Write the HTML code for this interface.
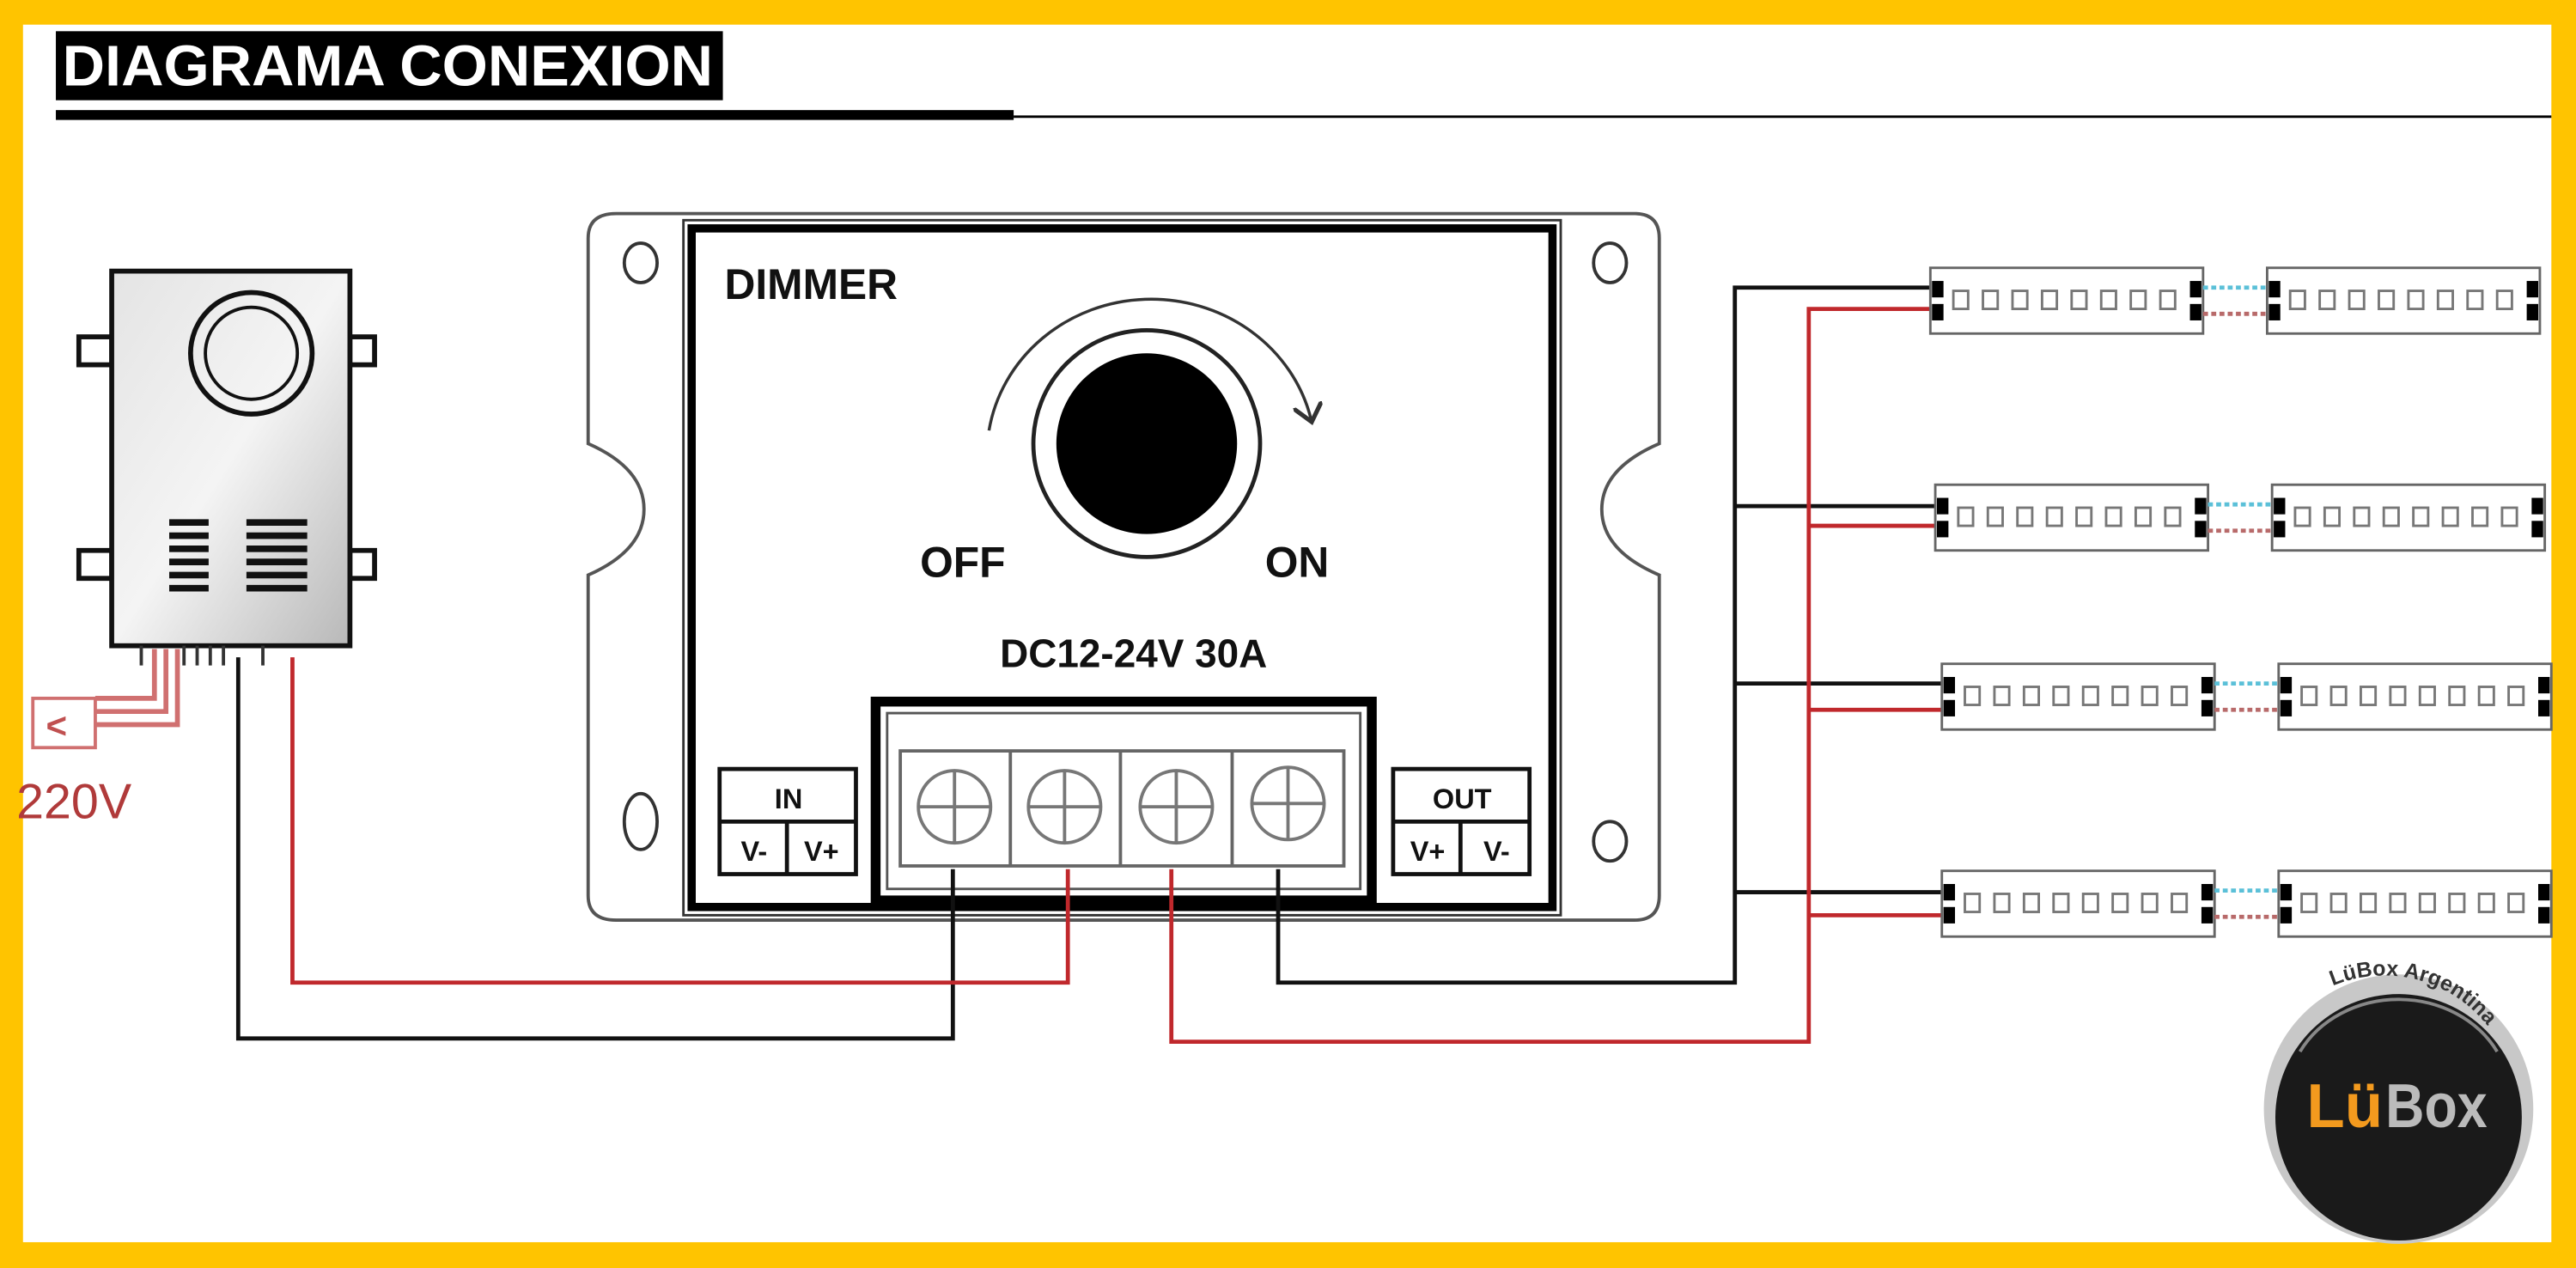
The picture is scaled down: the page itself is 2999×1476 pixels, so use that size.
<!DOCTYPE html>
<html><head><meta charset="utf-8"><style>
html,body{margin:0;padding:0;background:#FFC400;}
svg{display:block}
</style></head><body>
<svg width="2999" height="1476" viewBox="0 0 1568 771.7" preserveAspectRatio="none" xmlns="http://www.w3.org/2000/svg" font-family="Liberation Sans, sans-serif">
<defs>
<linearGradient id="g" x1="0" y1="0" x2="1" y2="1"><stop offset="0" stop-color="#e4e4e4"/><stop offset="0.5" stop-color="#f4f4f4"/><stop offset="1" stop-color="#b8b8b8"/></linearGradient>
<marker id="ah" markerWidth="10" markerHeight="10" refX="5" refY="5" orient="auto"><path d="M0,0 L6,5 L0,10" fill="none" stroke="#333" stroke-width="1.5"/></marker>
<g id="strip">
<rect x="0" y="0" width="166" height="40" fill="#fff" stroke="#666" stroke-width="1.5"/>
<rect x="1" y="8" width="7" height="10" fill="#000"/><rect x="1" y="22" width="7" height="10" fill="#000"/>
<rect x="158" y="8" width="7" height="10" fill="#000"/><rect x="158" y="22" width="7" height="10" fill="#000"/>
<g fill="none" stroke="#777" stroke-width="1.5">
<rect x="14" y="14" width="9" height="11"/><rect x="32" y="14" width="9" height="11"/><rect x="50" y="14" width="9" height="11"/><rect x="68" y="14" width="9" height="11"/><rect x="86" y="14" width="9" height="11"/><rect x="104" y="14" width="9" height="11"/><rect x="122" y="14" width="9" height="11"/><rect x="140" y="14" width="9" height="11"/>
</g>
</g>
<g id="pair">
<use href="#strip" x="0" y="0"/>
<line x1="166" y1="12" x2="205" y2="12" stroke="#5bc0d8" stroke-width="2.5" stroke-dasharray="3,2"/>
<line x1="166" y1="28" x2="205" y2="28" stroke="#b86a6a" stroke-width="2.5" stroke-dasharray="3,2"/>
<use href="#strip" x="205" y="0"/>
</g>
</defs>
<rect x="14" y="15" width="1539" height="741" fill="#fff"/>
<!-- title -->
<rect x="34" y="19" width="406" height="42" fill="#000"/>
<text x="38" y="52" font-size="35" font-weight="bold" fill="#fff" textLength="396" lengthAdjust="spacingAndGlyphs">DIAGRAMA CONEXION</text>
<rect x="34" y="67" width="583" height="6" fill="#000"/>
<line x1="617" y1="71" x2="1553" y2="71" stroke="#000" stroke-width="1.5"/>

<!-- power supply -->
<g stroke="#111" stroke-width="3">
<rect x="48" y="205" width="20" height="17" fill="#fff"/><rect x="48" y="335" width="20" height="17" fill="#fff"/>
<rect x="213" y="205" width="15" height="17" fill="#fff"/><rect x="213" y="335" width="15" height="17" fill="#fff"/>
<rect x="68" y="165" width="145" height="228" fill="url(#g)"/>
<circle cx="153" cy="215" r="37" fill="none"/>
<circle cx="153" cy="215" r="28" fill="none" stroke-width="2"/>
</g>
<g stroke="#111" stroke-width="4">
<path d="M103 318H127M103 326H127M103 334H127M103 342H127M103 350H127M103 358H127M150 318H187M150 326H187M150 334H187M150 342H187M150 350H187M150 358H187"/>
</g>
<g stroke="#333" stroke-width="2">
<path d="M86 393V405M112 393V405M120 393V405M128 393V405M136 393V405M160 393V405"/>
</g>
<g fill="none" stroke="#d07070" stroke-width="3">
<path d="M94 395 V425 H58 M101 395 V433 H58 M108 395 V441 H58"/>
</g>
<rect x="20" y="425" width="38" height="30" fill="#fff" stroke="#d07070" stroke-width="2"/>
<text x="28" y="449" font-size="22" font-weight="bold" fill="#c05050">&lt;</text>
<text x="10" y="498" font-size="30" fill="#b03a3a">220V</text>

<!-- dimmer body -->
<path d="M375 130 H995 Q1010 130 1010 145 V270 Q975 285 975 310 Q975 335 1010 350 V545 Q1010 560 995 560 H375 Q358 560 358 545 V350 Q392 335 392 310 Q392 285 358 270 V145 Q358 130 375 130 Z" fill="#fff" stroke="#555" stroke-width="2"/>
<ellipse cx="390" cy="160" rx="10" ry="12" fill="none" stroke="#333" stroke-width="2"/>
<ellipse cx="980" cy="160" rx="10" ry="12" fill="none" stroke="#333" stroke-width="2"/>
<ellipse cx="390" cy="500" rx="10" ry="17" fill="none" stroke="#333" stroke-width="2"/>
<ellipse cx="980" cy="512" rx="10" ry="12" fill="none" stroke="#333" stroke-width="2"/>
<rect x="416" y="134" width="534" height="423" fill="#fff" stroke="#333" stroke-width="1.5"/>
<rect x="421" y="139" width="524" height="413" fill="none" stroke="#000" stroke-width="5"/>
<text x="441" y="182" font-size="26" font-weight="bold" fill="#111">DIMMER</text>
<circle cx="698" cy="270" r="69" fill="#fff" stroke="#222" stroke-width="2.5"/>
<circle cx="698" cy="270" r="55" fill="#000"/>
<path d="M602 262 A100 95 0 0 1 798 255" fill="none" stroke="#333" stroke-width="1.8" marker-end="url(#ah)"/>
<text x="560" y="351" font-size="26" font-weight="bold" fill="#111">OFF</text>
<text x="770" y="351" font-size="26" font-weight="bold" fill="#111">ON</text>
<text x="690" y="406" font-size="24" font-weight="bold" fill="#111" text-anchor="middle">DC12-24V 30A</text>
<!-- terminal -->
<rect x="533" y="427" width="302" height="121" fill="#fff" stroke="#000" stroke-width="6"/>
<rect x="540" y="434" width="288" height="107" fill="none" stroke="#555" stroke-width="1.5"/>
<rect x="548" y="457" width="270" height="70" fill="#fff" stroke="#666" stroke-width="2"/>
<path d="M615 457V527M682 457V527M750 457V527" stroke="#666" stroke-width="2"/>
<g fill="none" stroke="#777" stroke-width="2">
<circle cx="581" cy="491" r="22"/><path d="M559 491H603M581 469V513"/>
<circle cx="648" cy="491" r="22"/><path d="M626 491H670M648 469V513"/>
<circle cx="716" cy="491" r="22"/><path d="M694 491H738M716 469V513"/>
<circle cx="784" cy="489" r="22"/><path d="M762 489H806M784 467V511"/>
</g>
<!-- IN / OUT -->
<g fill="#fff" stroke="#111" stroke-width="2.5">
<rect x="438" y="468" width="83" height="64"/><path d="M438 500H521M479 500V532"/>
<rect x="848" y="468" width="83" height="64"/><path d="M848 500H931M889 500V532"/>
</g>
<g font-size="17" font-weight="bold" fill="#111" text-anchor="middle">
<text x="480" y="492">IN</text><text x="459" y="524">V-</text><text x="500" y="524">V+</text>
<text x="890" y="492">OUT</text><text x="869" y="524">V+</text><text x="911" y="524">V-</text>
</g>

<!-- wires -->
<g fill="none" stroke-width="2.5">
<path d="M145 400 V632 H580 V529" stroke="#111"/>
<path d="M178 400 V598 H650 V529" stroke="#c0282c"/>
<path d="M778 529 V598 H1056 V175 H1178" stroke="#111"/>
<path d="M1056 308 H1182 M1056 416 H1186 M1056 543 H1186" stroke="#111"/>
<path d="M713 529 V634 H1101 V188 H1178" stroke="#c0282c"/>
<path d="M1101 320 H1182 M1101 432 H1186 M1101 557 H1186" stroke="#c0282c"/>
</g>

<!-- strips -->
<use href="#pair" x="1175" y="163"/>
<use href="#pair" x="1178" y="295"/>
<use href="#pair" x="1182" y="404"/>
<use href="#pair" x="1182" y="530"/>

<!-- logo -->
<circle cx="1460" cy="675" r="82" fill="#c8c8c8"/>
<circle cx="1460" cy="680" r="75" fill="#1a1a1a"/>
<path d="M1400 640 A68 60 0 0 1 1520 640" fill="none" stroke="#888" stroke-width="2"/>
<defs><path id="arc" d="M1420 600 A80 80 0 0 1 1530 660"/></defs>
<text font-size="13" fill="#333" font-weight="bold"><textPath href="#arc">LüBox Argentina</textPath></text>
<text x="1404" y="686" font-size="38" font-weight="bold" fill="#f39a1e">Lü</text>
<text x="1452" y="686" font-size="38" font-weight="bold" fill="#bbb" textLength="62" lengthAdjust="spacingAndGlyphs">Box</text>
</svg>
</body></html>
